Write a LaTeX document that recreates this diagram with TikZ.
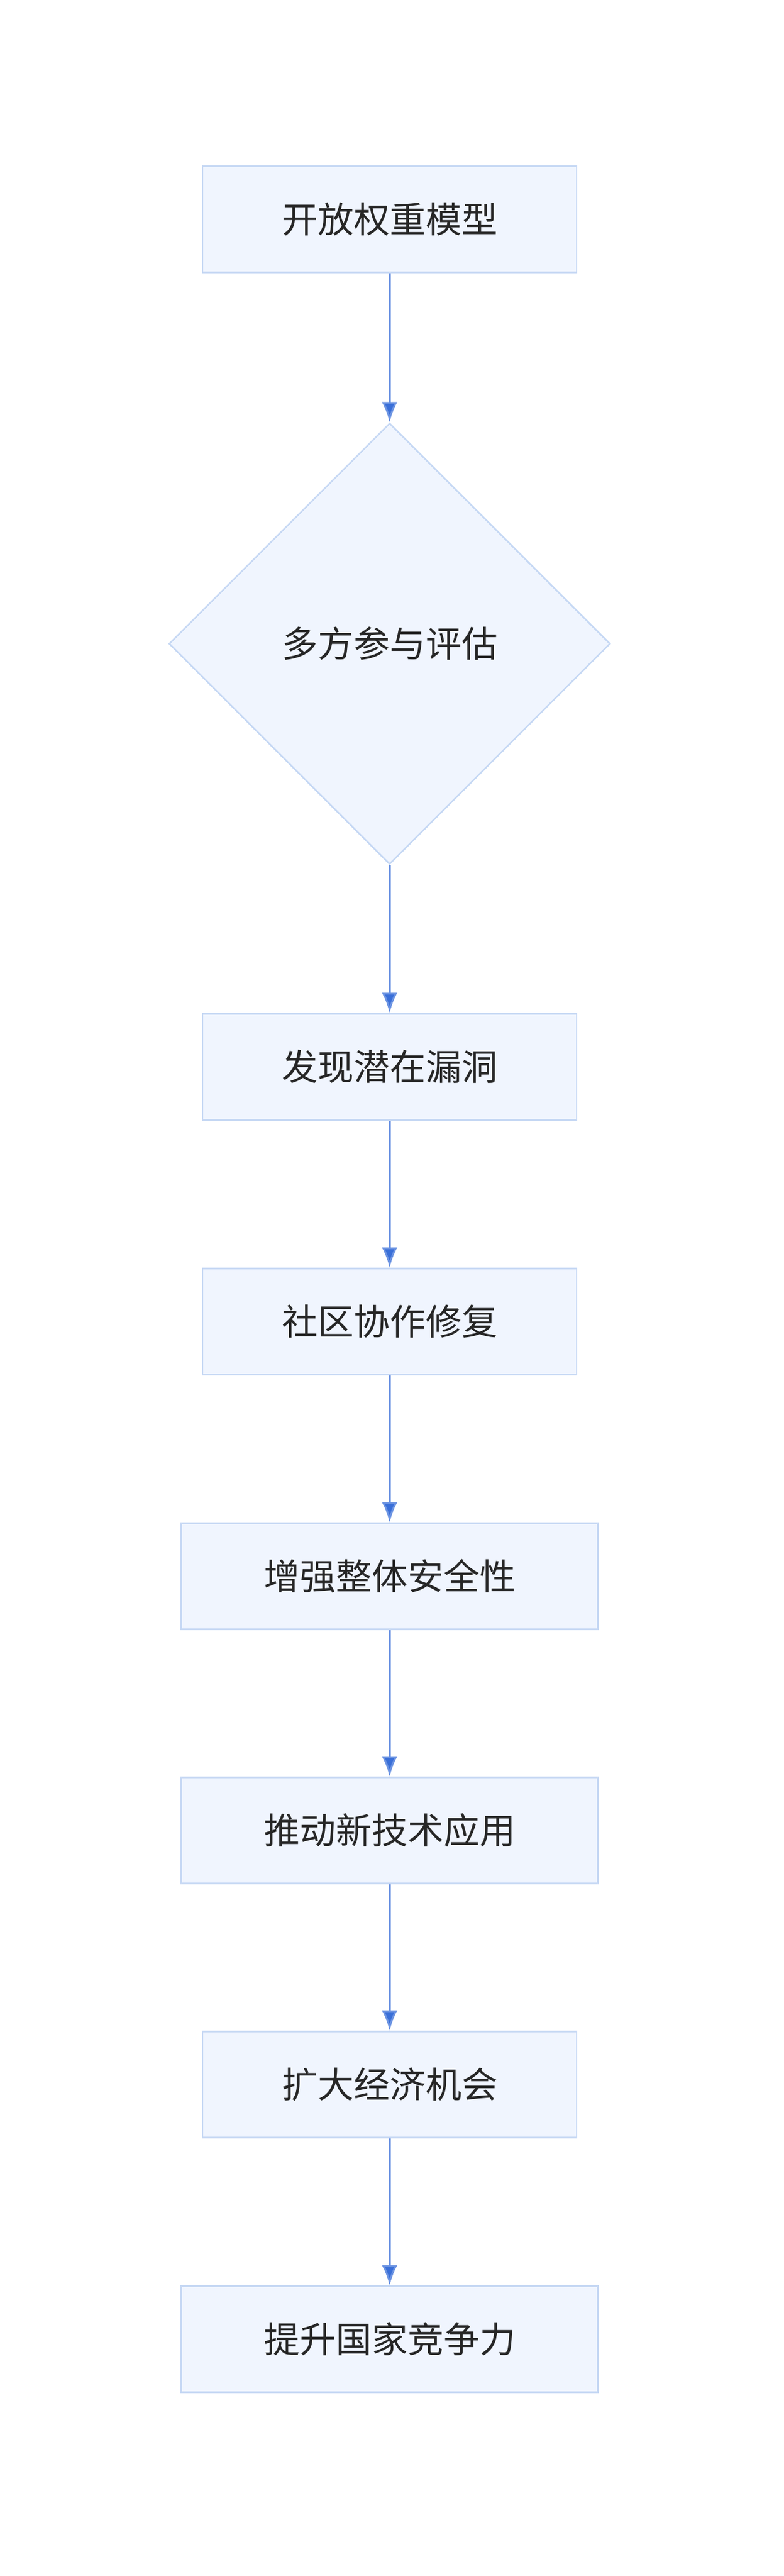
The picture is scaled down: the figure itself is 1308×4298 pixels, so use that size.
\documentclass[tikz,border=0pt]{standalone}
\usepackage{fontspec}
\newfontfamily\cjk{Noto Sans CJK SC}
\usetikzlibrary{shapes.geometric,arrows.meta}
\definecolor{bfill}{HTML}{F0F5FE}
\definecolor{bdraw}{HTML}{C6D8F4}
\definecolor{arr}{HTML}{3A6FD8}
\begin{document}
\begin{tikzpicture}[x=1pt,y=-1pt,
 box/.style={draw=bdraw,fill=bfill,line width=2.5pt,font=\cjk\fontsize{60}{70}\selectfont,text=black!85,inner sep=0pt},
 dia/.style={draw=bdraw,fill=bfill,line width=2.5pt,font=\cjk\fontsize{60}{70}\selectfont,text=black!85,diamond,minimum width=736pt,minimum height=736pt,inner sep=0pt},
 con/.style={draw=arr!75,line width=3pt,-{Latex[length=34pt,width=26pt,fill=arr]}}]
\useasboundingbox (0,0) rectangle (1308,4298);
\node[box,minimum width=624pt,minimum height=177pt] (a) at (650,366) {开放权重模型};
\node[dia] (b) at (650,1074) {多方参与评估};
\node[box,minimum width=624pt,minimum height=177pt] (c) at (650,1780) {发现潜在漏洞};
\node[box,minimum width=624pt,minimum height=177pt] (d) at (650,2205) {社区协作修复};
\node[box,minimum width=695pt,minimum height=177pt] (e) at (650,2630) {增强整体安全性};
\node[box,minimum width=695pt,minimum height=177pt] (f) at (650,3054) {推动新技术应用};
\node[box,minimum width=624pt,minimum height=177pt] (g) at (650,3478) {扩大经济机会};
\node[box,minimum width=695pt,minimum height=177pt] (h) at (650,3903) {提升国家竞争力};
\draw[con] (a) -- (b);
\draw[con] (b) -- (c);
\draw[con] (c) -- (d);
\draw[con] (d) -- (e);
\draw[con] (e) -- (f);
\draw[con] (f) -- (g);
\draw[con] (g) -- (h);
\end{tikzpicture}
\end{document}
